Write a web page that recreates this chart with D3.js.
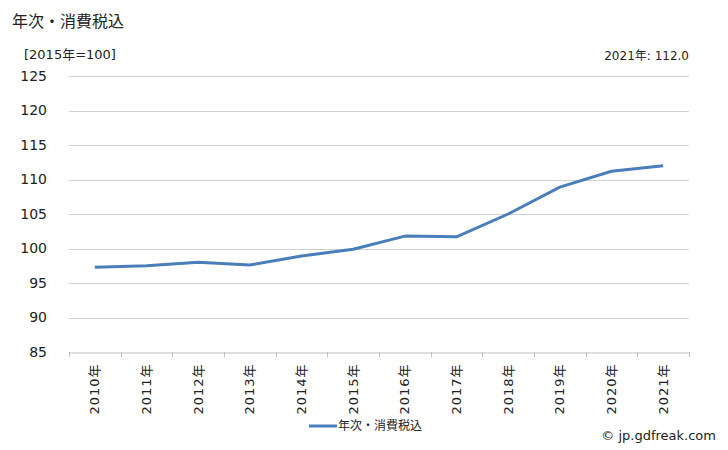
<!DOCTYPE html>
<html><head><meta charset="utf-8">
<script src="https://cdn.jsdelivr.net/npm/d3@7"></script>
<style>
body{margin:0;background:#fff;}
</style></head>
<body>
<svg id="chart" width="728" height="450"></svg>
<script>
const categories = ["2010年","2011年","2012年","2013年","2014年","2015年","2016年","2017年","2018年","2019年","2020年","2021年"];
const seriesName = "年次・消費税込";
const values = [97.3, 97.5, 98.0, 97.6, 98.9, 99.9, 101.8, 101.7, 105.0, 108.9, 111.2, 112.0];
const yTicks = [85, 90, 95, 100, 105, 110, 115, 120, 125];
const title = "年次・消費税込";
const unitLabel = "[2015年=100]";
const lastLabel = "2021年: 112.0";
const credit = "© jp.gdfreak.com";

const latin = "'DejaVu Sans','Noto Sans CJK JP',sans-serif";
const cjk = "'Noto Sans CJK JP','Noto Sans',sans-serif";
const svg = d3.select("#chart");
const L = 69, R = 689, T = 76, B = 352;

const x = d3.scaleBand().domain(categories).range([L, R]);
const y = d3.scaleLinear().domain([85, 125]).range([B, T]);

// title
svg.append("text").attr("x", 12).attr("y", 27).style("font-size", "16px").style("font-family", cjk).attr("fill", "#222").text(title);
svg.append("text").attr("x", 24).attr("y", 59).style("font-size", "13px").style("font-family", latin).attr("fill", "#222").text(unitLabel);
svg.append("text").attr("x", R).attr("y", 60).style("font-size", "12px").style("font-family", latin).attr("fill", "#222").attr("text-anchor", "end").text(lastLabel);

// gridlines
svg.append("g").selectAll("line").data(yTicks.filter(d => d !== 85)).join("line")
  .attr("x1", L).attr("x2", R)
  .attr("y1", d => Math.round(y(d)) + 0.5).attr("y2", d => Math.round(y(d)) + 0.5)
  .attr("stroke", "#d0d0d0").attr("stroke-width", 1);

// y axis labels
const yAxis = d3.axisLeft(y).tickValues(yTicks).tickSize(0).tickPadding(0);
const gy = svg.append("g").attr("transform", `translate(${L - 22},0)`).call(yAxis);
gy.select(".domain").remove();
gy.selectAll("text").attr("fill", "#222")
  .style("font-size", "14px").style("font-family", latin);

// x axis
const xAxis = d3.axisBottom(x).tickSize(0);
const gx = svg.append("g").attr("transform", `translate(0,${B + 0.5})`).call(xAxis);
gx.select(".domain").attr("stroke", "#bfbfbf");
gx.selectAll(".tick text")
  .attr("fill", "#222")
  .style("font-size", "13px").style("font-family", latin)
  .attr("letter-spacing", 1)
  .attr("transform", "rotate(-90)")
  .attr("text-anchor", "end")
  .attr("x", -11).attr("y", 0).attr("dy", "0.35em");
// tick marks at band edges
const edges = categories.map(c => x(c)).concat([x(categories[categories.length - 1]) + x.bandwidth()]);
svg.append("g").selectAll("line").data(edges).join("line")
  .attr("x1", d => Math.round(d) + 0.5).attr("x2", d => Math.round(d) + 0.5)
  .attr("y1", B).attr("y2", B + 5)
  .attr("stroke", "#bfbfbf");

// line
const line = d3.line().x((d, i) => x(categories[i]) + x.bandwidth() / 2).y(d => y(d));
svg.append("path").datum(values).attr("d", line)
  .attr("fill", "none").attr("stroke", "#4a7ebb").attr("stroke-width", 3)
  .attr("stroke-linejoin", "round");

// legend
svg.append("line").attr("x1", 309).attr("x2", 337).attr("y1", 426).attr("y2", 426)
  .attr("stroke", "#4a7ebb").attr("stroke-width", 3);
svg.append("text").attr("x", 338).attr("y", 430).style("font-size", "12px").style("font-family", cjk).attr("fill", "#222").text(seriesName);

// credit
svg.append("text").attr("x", 716).attr("y", 440).style("font-size", "13px").style("font-family", latin).attr("fill", "#222").attr("text-anchor", "end").text(credit);
</script>
</body></html>
